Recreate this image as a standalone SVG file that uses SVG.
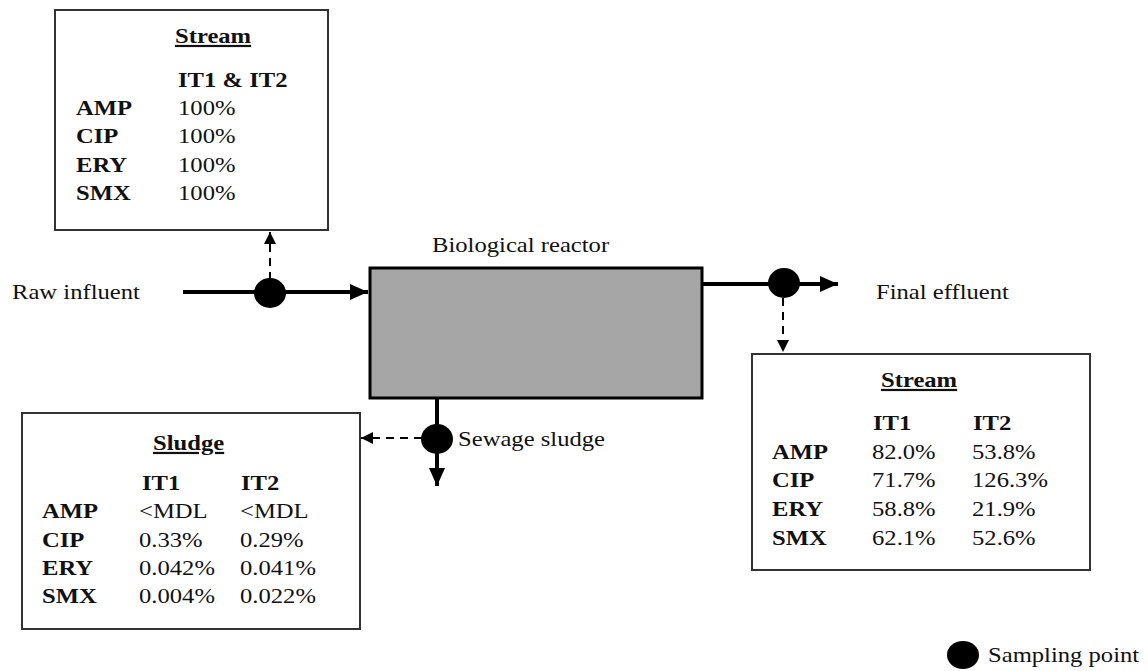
<svg xmlns="http://www.w3.org/2000/svg" width="1148" height="671" viewBox="0 0 1148 671">
<style>
text{font-family:"Liberation Serif","Times New Roman",serif;font-size:22px;fill:#111}
.b{font-weight:bold}
.u{text-decoration:underline}
.box{fill:#fff;stroke:#333;stroke-width:2}
.flow{stroke:#000;stroke-width:4;fill:none}
.dash{stroke:#000;stroke-width:2;stroke-dasharray:8 6;fill:none}
.pt{fill:#000}
</style>
<defs>
<marker id="ah" markerUnits="userSpaceOnUse" markerWidth="20" markerHeight="16" refX="18" refY="8" orient="auto"><path d="M0,0 L18,8 L0,16 Z" fill="#000"/></marker>
<marker id="ahs" markerUnits="userSpaceOnUse" markerWidth="14" markerHeight="12" refX="12" refY="6" orient="auto"><path d="M0,0 L12,6 L0,12 Z" fill="#000"/></marker>
</defs>
<g id="connectors">
<path class="flow" d="M183,292 H368" marker-end="url(#ah)"/>
<path class="flow" d="M702,284 H838" marker-end="url(#ah)"/>
<path class="flow" d="M437,399 V486" marker-end="url(#ah)"/>
<path class="dash" d="M270,280 V232" marker-end="url(#ahs)"/>
<path class="dash" d="M783,298 V352" marker-end="url(#ahs)"/>
<path class="dash" d="M422,438 H361" marker-end="url(#ahs)"/>
<ellipse class="pt" cx="270" cy="293" rx="16" ry="15"/>
<ellipse class="pt" cx="784" cy="283" rx="16" ry="15"/>
<ellipse class="pt" cx="437" cy="439" rx="16" ry="15"/>
</g>
<g id="reactor">
<rect x="370" y="268" width="332" height="130" fill="#a6a6a6" stroke="#000" stroke-width="3"/>
<text transform="translate(432,252) scale(1.12,1)">Biological reactor</text>
</g>
<g id="raw-influent">
<text transform="translate(12,299) scale(1.12,1)">Raw influent</text>
</g>
<g id="final-effluent">
<text transform="translate(876,299) scale(1.12,1)">Final effluent</text>
</g>
<g id="sewage-sludge">
<text transform="translate(458,446) scale(1.12,1)">Sewage sludge</text>
</g>
<g id="stream-in">
<rect class="box" x="55" y="10" width="273" height="220"/>
<text class="b u" transform="translate(175,43) scale(1.12,1)">Stream</text>
<text class="b" transform="translate(178,87) scale(1.12,1)">IT1 &amp; IT2</text>
<text class="b" transform="translate(76,115) scale(1.12,1)">AMP</text>
<text class="b" transform="translate(76,143) scale(1.12,1)">CIP</text>
<text class="b" transform="translate(76,172) scale(1.12,1)">ERY</text>
<text class="b" transform="translate(76,200) scale(1.12,1)">SMX</text>
<text transform="translate(178,115) scale(1.12,1)">100%</text>
<text transform="translate(178,143) scale(1.12,1)">100%</text>
<text transform="translate(178,172) scale(1.12,1)">100%</text>
<text transform="translate(178,200) scale(1.12,1)">100%</text>
</g>
<g id="stream-out">
<rect class="box" x="752" y="354" width="338" height="216"/>
<text class="b u" transform="translate(881,387) scale(1.12,1)">Stream</text>
<text class="b" transform="translate(873,430) scale(1.12,1)">IT1</text>
<text class="b" transform="translate(973,430) scale(1.12,1)">IT2</text>
<text class="b" transform="translate(772,459) scale(1.12,1)">AMP</text>
<text class="b" transform="translate(772,487) scale(1.12,1)">CIP</text>
<text class="b" transform="translate(772,516) scale(1.12,1)">ERY</text>
<text class="b" transform="translate(772,545) scale(1.12,1)">SMX</text>
<text transform="translate(872,459) scale(1.12,1)">82.0%</text>
<text transform="translate(872,487) scale(1.12,1)">71.7%</text>
<text transform="translate(872,516) scale(1.12,1)">58.8%</text>
<text transform="translate(872,545) scale(1.12,1)">62.1%</text>
<text transform="translate(972,459) scale(1.12,1)">53.8%</text>
<text transform="translate(972,487) scale(1.12,1)">126.3%</text>
<text transform="translate(972,516) scale(1.12,1)">21.9%</text>
<text transform="translate(972,545) scale(1.12,1)">52.6%</text>
</g>
<g id="sludge">
<rect class="box" x="22" y="413" width="338" height="216"/>
<text class="b u" transform="translate(153,450) scale(1.12,1)">Sludge</text>
<text class="b" transform="translate(142,490) scale(1.12,1)">IT1</text>
<text class="b" transform="translate(241,490) scale(1.12,1)">IT2</text>
<text class="b" transform="translate(42,518) scale(1.12,1)">AMP</text>
<text class="b" transform="translate(42,547) scale(1.12,1)">CIP</text>
<text class="b" transform="translate(42,575) scale(1.12,1)">ERY</text>
<text class="b" transform="translate(42,603) scale(1.12,1)">SMX</text>
<text transform="translate(139,518) scale(1.12,1)">&lt;MDL</text>
<text transform="translate(139,547) scale(1.12,1)">0.33%</text>
<text transform="translate(139,575) scale(1.12,1)">0.042%</text>
<text transform="translate(139,603) scale(1.12,1)">0.004%</text>
<text transform="translate(240,518) scale(1.12,1)">&lt;MDL</text>
<text transform="translate(240,547) scale(1.12,1)">0.29%</text>
<text transform="translate(240,575) scale(1.12,1)">0.041%</text>
<text transform="translate(240,603) scale(1.12,1)">0.022%</text>
</g>
<g id="legend">
<ellipse class="pt" cx="963" cy="655" rx="16" ry="14"/>
<text transform="translate(988,662) scale(1.12,1)">Sampling point</text>
</g>
</svg>
